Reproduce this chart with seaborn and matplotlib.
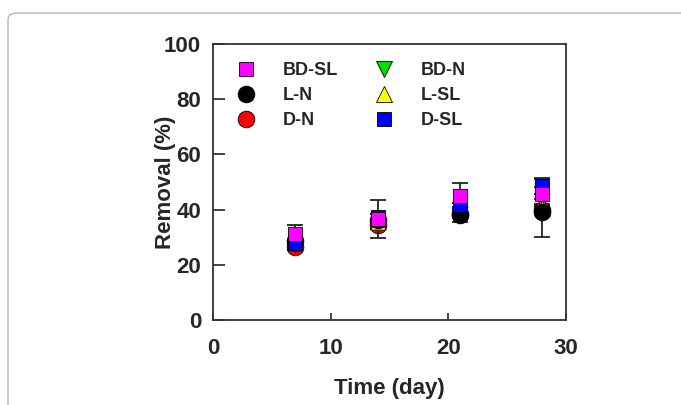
import pandas as pd
import matplotlib.pyplot as plt
import seaborn as sns
from matplotlib.patches import FancyBboxPatch

# values
days = [7, 14, 21, 28]
series_order = ['D-N', 'BD-N', 'L-SL', 'L-N', 'D-SL', 'BD-SL']
legend_order = ['BD-SL', 'L-N', 'D-N', 'BD-N', 'L-SL', 'D-SL']

removal = {
    'BD-SL': [31.2, 36.6, 44.9, 45.6],
    'L-N': [28.5, 36.3, 38.0, 39.2],
    'D-N': [26.3, 34.5, 38.5, 40.0],
    'BD-N': [27.0, 34.5, 38.5, 43.0],
    'L-SL': [28.0, 35.5, 39.8, 40.5],
    'D-SL': [27.8, 37.5, 41.5, 48.5],
}
errors = {
    'BD-SL': [3.2, 7.0, 4.8, 5.5],
    'L-N': [1.0, 2.0, 2.4, 9.0],
    'D-N': [1.0, 1.5, 1.5, 1.0],
    'BD-N': [0.8, 1.0, 1.0, 1.0],
    'L-SL': [0.8, 1.0, 1.0, 1.0],
    'D-SL': [0.8, 1.0, 1.0, 2.8],
}

colors = {'BD-SL': '#ff00ff', 'L-N': '#000000', 'D-N': '#ff0000',
          'BD-N': '#00dd00', 'L-SL': '#ffff00', 'D-SL': '#0000ff'}
markers = {'BD-SL': 's', 'L-N': 'o', 'D-N': 'o',
           'BD-N': 'v', 'L-SL': '^', 'D-SL': 's'}
msize = {'s': 10, 'o': 12, 'v': 11, '^': 11}

rows = []
for name in series_order:
    for d, v, e in zip(days, removal[name], errors[name]):
        rows.append({'Time': d, 'Removal': v, 'err': e, 'Series': name})
df = pd.DataFrame(rows)

sns.set_style('ticks')
plt.rcParams['font.family'] = ['Liberation Sans', 'DejaVu Sans']
plt.rcParams['font.weight'] = 'bold'

fig = plt.figure(figsize=(6.81, 4.05), dpi=100)
ax = fig.add_axes([213 / 681, 1 - 320 / 405, 353 / 681, 276 / 405])

# light rounded frame around the figure
frame = FancyBboxPatch((8 / 681, -0.2), 1.2, 1.2 - 13 / 405,
                       boxstyle='round,pad=0,rounding_size=0.015',
                       transform=fig.transFigure, fill=False,
                       edgecolor='#b5b5b5', linewidth=1.0, zorder=0)
fig.patches.append(frame)

for name in series_order:
    sub = df[df['Series'] == name]
    ax.errorbar(sub['Time'], sub['Removal'], yerr=sub['err'], fmt='none',
                ecolor='#222222', elinewidth=1.3, capsize=6, capthick=1.3, zorder=1)

for i, name in enumerate(series_order):
    sub = df[df['Series'] == name]
    m = markers[name]
    sns.scatterplot(data=sub, x='Time', y='Removal', marker=m,
                    color=colors[name], s=msize[m] ** 2, edgecolor='black',
                    linewidth=0.6, ax=ax, zorder=3 + i, legend=False)

# legend in two columns, no frame
handles = []
for name in legend_order:
    m = markers[name]
    h = plt.Line2D([], [], linestyle='none', marker=m, markersize=msize[m],
                   markerfacecolor=colors[name], markeredgecolor='black',
                   markeredgewidth=0.6, label=name)
    handles.append(h)
ax.legend(handles=handles, ncol=2, frameon=False, loc='upper left',
          bbox_to_anchor=(0.042, 0.933), fontsize=13, handlelength=2.0,
          handletextpad=1.05, columnspacing=1.55, labelspacing=0.44,
          borderpad=0, borderaxespad=0)

ax.set_xlim(0, 30)
ax.set_ylim(0, 100)
ax.set_xticks([0, 10, 20, 30])
ax.set_yticks([0, 20, 40, 60, 80, 100])
ax.tick_params(direction='in', width=1.2, labelsize=16, top=False, right=False)
ax.tick_params(axis='x', length=5, pad=13)
ax.tick_params(axis='y', length=8.5, pad=8.5)
for lab in ax.get_xticklabels() + ax.get_yticklabels():
    lab.set_fontweight('bold')
for sp in ax.spines.values():
    sp.set_visible(True)
    sp.set_linewidth(1.3)
    sp.set_color('#333333')

ax.set_xlabel('Time (day)', fontsize=16, fontweight='bold')
ax.set_ylabel('Removal (%)', fontsize=16, fontweight='bold')
ax.xaxis.set_label_coords(0.5, -(378 - 320) / 276)
ax.yaxis.set_label_coords(-(213 - 176) / 353, 0.5)

fig.savefig('out.png', dpi=100)
